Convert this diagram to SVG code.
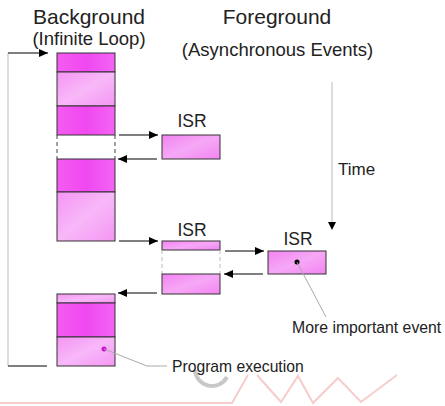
<svg xmlns="http://www.w3.org/2000/svg" width="445" height="406" viewBox="0 0 445 406">
<defs>
<marker id="ah" markerWidth="9" markerHeight="8" refX="9" refY="4" orient="auto" markerUnits="userSpaceOnUse">
<path d="M0,0 L9,4 L0,8 Z" fill="#000"/>
</marker>
<linearGradient id="lite" x1="0" y1="0" x2="1" y2="1">
<stop offset="0" stop-color="#f494f4"/>
<stop offset="0.5" stop-color="#f8b8f8"/>
<stop offset="1" stop-color="#f496f4"/>
</linearGradient>
<linearGradient id="sat" x1="0" y1="0" x2="1" y2="0">
<stop offset="0" stop-color="#f25cf2"/>
<stop offset="0.5" stop-color="#f048f0"/>
<stop offset="1" stop-color="#f464f4"/>
</linearGradient>
<linearGradient id="isr" x1="0" y1="0" x2="1" y2="1">
<stop offset="0" stop-color="#f282f2"/>
<stop offset="0.5" stop-color="#f6a8f6"/>
<stop offset="1" stop-color="#f284f2"/>
</linearGradient>
</defs>
<style>
text{font-family:"Liberation Sans",Arial,sans-serif;fill:#222}
.box{stroke:#333;stroke-width:1}
.lite{fill:url(#lite)}
.sat{fill:url(#sat)}
.isr{fill:url(#isr)}
.arr{stroke:#000;stroke-width:1.2;fill:none;marker-end:url(#ah)}
.dash{stroke:#444;stroke-width:1;stroke-dasharray:4,3;fill:none}
.dashl{stroke:#bbb;stroke-width:1;stroke-dasharray:4,3;fill:none}
.lead{stroke:#aaa;stroke-width:1;fill:none}
</style>
<rect width="445" height="406" fill="#fff"/>
<g id="watermark" fill="none">
<path d="M195,370 A17,17 0 0 0 227,377" stroke="#c8c8c8" stroke-width="4"/>
<path d="M0,403 L232,403 L248,375 M257,375 L281,402 L298,376 L313,403 L338,378 L361,402 L397,375" stroke="#f7cccc" stroke-width="2"/>
</g>
<g id="titles">
<text x="89" y="24" font-size="21" text-anchor="middle">Background</text>
<text x="89" y="45" font-size="18.5" text-anchor="middle">(Infinite Loop)</text>
<text x="277" y="24" font-size="21" text-anchor="middle">Foreground</text>
<text x="277.5" y="56" font-size="18.5" text-anchor="middle">(Asynchronous Events)</text>
</g>
<g id="background-task">
<rect class="box sat" x="57" y="53" width="58" height="19"/>
<rect class="box lite" x="57" y="72" width="58" height="34"/>
<rect class="box sat" x="57" y="106" width="58" height="29"/>
<path class="dash" d="M57,135 V159 M115,135 V159"/>
<rect class="box sat" x="57" y="159" width="58" height="33"/>
<rect class="box lite" x="57" y="192" width="58" height="49"/>
<rect class="box lite" x="57" y="294" width="58" height="9"/>
<rect class="box sat" x="57" y="303" width="58" height="34"/>
<rect class="box lite" x="57" y="337" width="58" height="29"/>
<circle cx="104" cy="349" r="2.5" fill="#d010d0"/>
</g>
<g id="isr1">
<text x="192" y="127" font-size="17.5" text-anchor="middle">ISR</text>
<rect class="box isr" x="162" y="135" width="58" height="24"/>
</g>
<g id="isr2">
<text x="192" y="236" font-size="17.5" text-anchor="middle">ISR</text>
<rect class="box isr" x="162" y="241" width="58" height="9"/>
<path class="dashl" d="M162,250 V274 M220,250 V274"/>
<rect class="box isr" x="162" y="274" width="58" height="20"/>
</g>
<g id="isr3">
<text x="298" y="245" font-size="17.5" text-anchor="middle">ISR</text>
<rect class="box isr" x="268" y="251" width="58" height="23"/>
<circle cx="297" cy="262" r="2.5" fill="#000"/>
</g>
<g id="connectors">
<path d="M8,53 V366" stroke="#bbb" stroke-width="1" fill="none"/>
<path class="arr" d="M8,53 H48"/>
<path d="M8,366 H47" stroke="#000" stroke-width="1.2" fill="none"/>
<path class="arr" d="M119,135 H158"/>
<path class="arr" d="M157,159 H118"/>
<path class="arr" d="M119,241 H158"/>
<path class="arr" d="M225,251 H264"/>
<path class="arr" d="M263,274 H224"/>
<path class="arr" d="M157,293 H118"/>
<path d="M332,82 V222" stroke="#bbb" stroke-width="1" fill="none"/>
<path d="M328,222 L336,222 L332,230 Z" fill="#000"/>
<path class="lead" d="M297,262 L326,317"/>
<path class="lead" d="M104,349 L147,366 H167"/>
</g>
<g id="labels">
<text x="338" y="175" font-size="17">Time</text>
<text x="292" y="333" font-size="15.8">More important event</text>
<text x="172" y="372" font-size="15.7">Program execution</text>
</g>
</svg>
